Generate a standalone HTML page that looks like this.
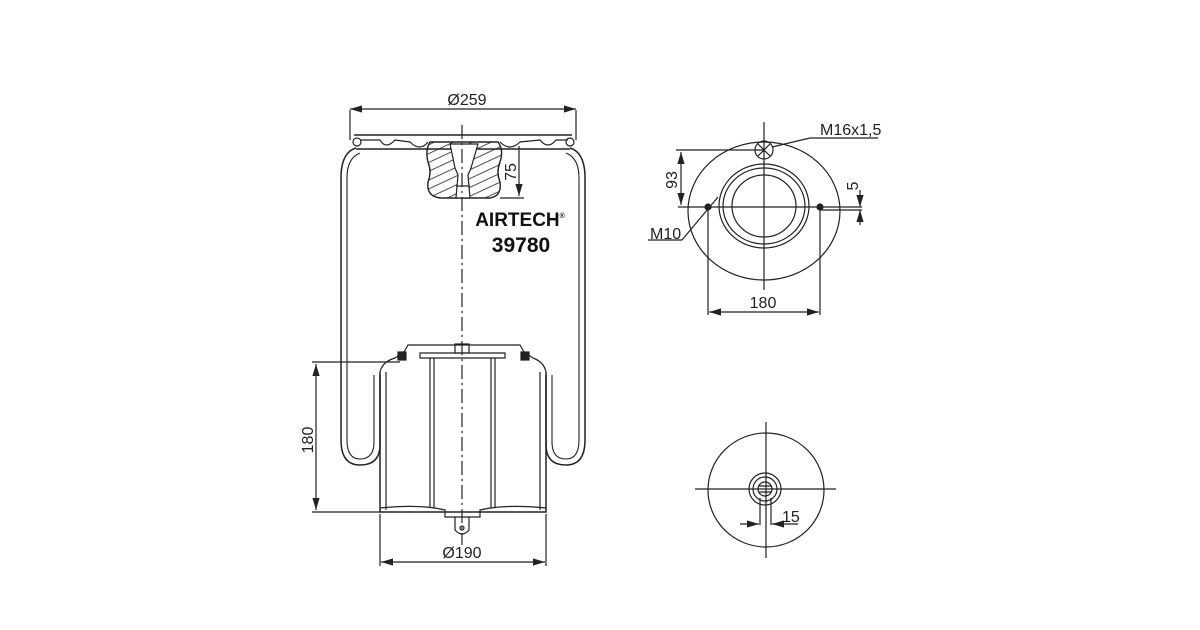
<!DOCTYPE html>
<html><head><meta charset="utf-8"><style>
html,body{margin:0;padding:0;background:#fff}
svg{display:block}
text{font-family:"Liberation Sans Narrow","Liberation Sans",sans-serif;fill:#222}
</style></head><body>
<svg width="1200" height="630" viewBox="0 0 1200 630" xmlns="http://www.w3.org/2000/svg">
<defs>
<marker id="a" viewBox="0 0 10 6" refX="10" refY="3" markerWidth="10" markerHeight="6" orient="auto-start-reverse"><path d="M0,0L10,3L0,6z" fill="#222"/></marker>
<pattern id="h" width="8" height="8" patternUnits="userSpaceOnUse" patternTransform="rotate(-25)"><line x1="0" y1="0" x2="8" y2="0" stroke="#222" stroke-width="1.6"/></pattern>
</defs>
<g fill="none" stroke="#222" stroke-width="1.2">
<!-- top dimension 259 -->
<line x1="350" y1="110" x2="350" y2="140"/><line x1="576" y1="110" x2="576" y2="140"/>
<line x1="350" y1="109" x2="576" y2="109" marker-start="url(#a)" marker-end="url(#a)"/>
<!-- top plate -->
<path d="M354,135 L572,135 M356,149 L570,149" stroke-width="1.5"/>
<path d="M360,140 L380,140 Q386,150 395,140 L410,142 Q420,152 428,142 M500,142 Q510,152 520,142 L540,140 Q548,150 556,140 L568,140" />
<circle cx="357" cy="142" r="4"/><circle cx="570" cy="142" r="4"/>
<!-- bellows -->
<path d="M356,148 Q342,152 341,175 L341,440 Q341,465 360,465 Q380,465 380,445 L380,375" stroke-width="1.5"/>
<path d="M360,153 Q347,158 347,178 L347,440 Q347,459 360,459 Q374,459 374,442 L374,375" stroke-width="1.1"/>
<path d="M570,148 Q584,152 585,175 L585,440 Q585,465 566,465 Q546,465 546,445 L546,375" stroke-width="1.5"/>
<path d="M566,153 Q579,158 579,178 L579,440 Q579,459 566,459 Q552,459 552,442 L552,375" stroke-width="1.1"/>
<!-- bumper -->
<path d="M430,142 Q425,150 428,162 Q432,172 428,182 Q426,196 440,198 L490,198 Q502,196 500,182 Q496,172 500,162 Q504,150 498,142 Z" fill="url(#h)" stroke-width="1.4"/>
<path d="M450,144 L455,168 L458,175 L456,198 L470,198 L468,175 L471,168 L478,144 Z" fill="#fff"/>
<path d="M456,186 L470,186"/>
<!-- 75 dim -->
<line x1="500" y1="198" x2="524" y2="198"/>
<line x1="519" y1="146" x2="519" y2="196" marker-end="url(#a)"/>
<!-- piston -->
<path d="M380,372 L380,512 L546,512 L546,372" stroke-width="1.5"/>
<path d="M386,372 L386,510 M540,372 L540,510"/>
<path d="M380,372 Q382,362 395,358 L404,352 L408,345 L520,345 L524,352 L533,358 Q544,362 546,372"/>
<rect x="398" y="352" width="8" height="8" fill="#222"/><rect x="521" y="352" width="8" height="8" fill="#222"/>
<path d="M420,353 L505,353 L505,358 L420,358 Z"/>
<rect x="455" y="344" width="14" height="9"/>
<path d="M430,358 L430,508 M434,358 L434,508 M491,358 L491,508 M495,358 L495,508"/>
<path d="M380,508 Q420,504 445,510 L445,517 L480,517 L480,510 Q505,504 546,508"/>
<path d="M455,517 L455,530 Q462,538 469,530 L469,517"/><circle cx="462" cy="528" r="2"/>
<!-- 180 dim -->
<line x1="312" y1="362" x2="400" y2="362"/><line x1="312" y1="512" x2="380" y2="512"/>
<line x1="316" y1="364" x2="316" y2="510" marker-start="url(#a)" marker-end="url(#a)"/>
<!-- 190 dim -->
<line x1="380" y1="514" x2="380" y2="566"/><line x1="546" y1="514" x2="546" y2="566"/>
<line x1="381" y1="562" x2="545" y2="562" marker-start="url(#a)" marker-end="url(#a)"/>
<!-- centerline -->
<line x1="462" y1="125" x2="462" y2="545" stroke-dasharray="14,4,2,4"/>

<!-- top view -->
<ellipse cx="764" cy="211" rx="76" ry="69"/>
<ellipse cx="764" cy="206" rx="45" ry="42"/>
<ellipse cx="764" cy="206" rx="41" ry="38"/>
<ellipse cx="764" cy="206" rx="32" ry="31"/>
<line x1="764" y1="122" x2="764" y2="290"/>
<line x1="678" y1="207" x2="862" y2="207"/>
<line x1="820" y1="210" x2="862" y2="210"/>
<circle cx="764" cy="150" r="9"/>
<path d="M758,144 L770,156 M770,144 L758,156"/>
<circle cx="708" cy="207" r="3" fill="#222"/><circle cx="820" cy="207" r="3" fill="#222"/>
<line x1="676" y1="150" x2="764" y2="150"/>
<line x1="681" y1="152" x2="681" y2="205" marker-start="url(#a)" marker-end="url(#a)"/>
<line x1="772" y1="147" x2="810" y2="138"/><line x1="810" y1="138" x2="878" y2="138"/>
<line x1="718" y1="197" x2="682" y2="240"/><line x1="648" y1="240" x2="682" y2="240"/>
<line x1="708" y1="210" x2="708" y2="315"/><line x1="820" y1="210" x2="820" y2="315"/>
<line x1="709" y1="312" x2="819" y2="312" marker-start="url(#a)" marker-end="url(#a)"/>
<line x1="860" y1="190" x2="860" y2="207" marker-end="url(#a)"/>
<line x1="860" y1="225" x2="860" y2="210" marker-end="url(#a)"/>

<!-- bottom view -->
<ellipse cx="766" cy="490" rx="58" ry="57"/>
<line x1="766" y1="422" x2="766" y2="558"/>
<line x1="695" y1="489" x2="836" y2="489"/>
<circle cx="765" cy="489" r="16"/><circle cx="765" cy="489" r="12"/><circle cx="765" cy="489" r="7"/>
<path d="M759,486 L771,486 M759,492 L771,492"/>
<line x1="760" y1="498" x2="760" y2="525"/><line x1="771" y1="498" x2="771" y2="525"/>
<line x1="740" y1="524" x2="759" y2="524" marker-end="url(#a)"/>
<line x1="798" y1="524" x2="772" y2="524" marker-end="url(#a)"/>
</g>
<text x="467" y="105" font-size="16" text-anchor="middle">Ø259</text>
<text x="462" y="558" font-size="16" text-anchor="middle">Ø190</text>
<text transform="translate(313,440) rotate(-90)" font-size="16" text-anchor="middle">180</text>
<text transform="translate(516,172) rotate(-90)" font-size="16" text-anchor="middle">75</text>
<text x="520" y="226" font-size="19" font-weight="bold" text-anchor="middle" style="fill:#111">AIRTECH<tspan font-size="7" dy="-8">®</tspan></text>
<text x="521" y="252" font-size="21" font-weight="bold" text-anchor="middle" style="fill:#111">39780</text>
<text x="820" y="135" font-size="16">M16x1,5</text>
<text x="650" y="239" font-size="16">M10</text>
<text transform="translate(677,180) rotate(-90)" font-size="16" text-anchor="middle">93</text>
<text transform="translate(858,186) rotate(-90)" font-size="16" text-anchor="middle">5</text>
<text x="763" y="308" font-size="16" text-anchor="middle">180</text>
<text x="782" y="522" font-size="16">15</text>
</svg>
</body></html>
